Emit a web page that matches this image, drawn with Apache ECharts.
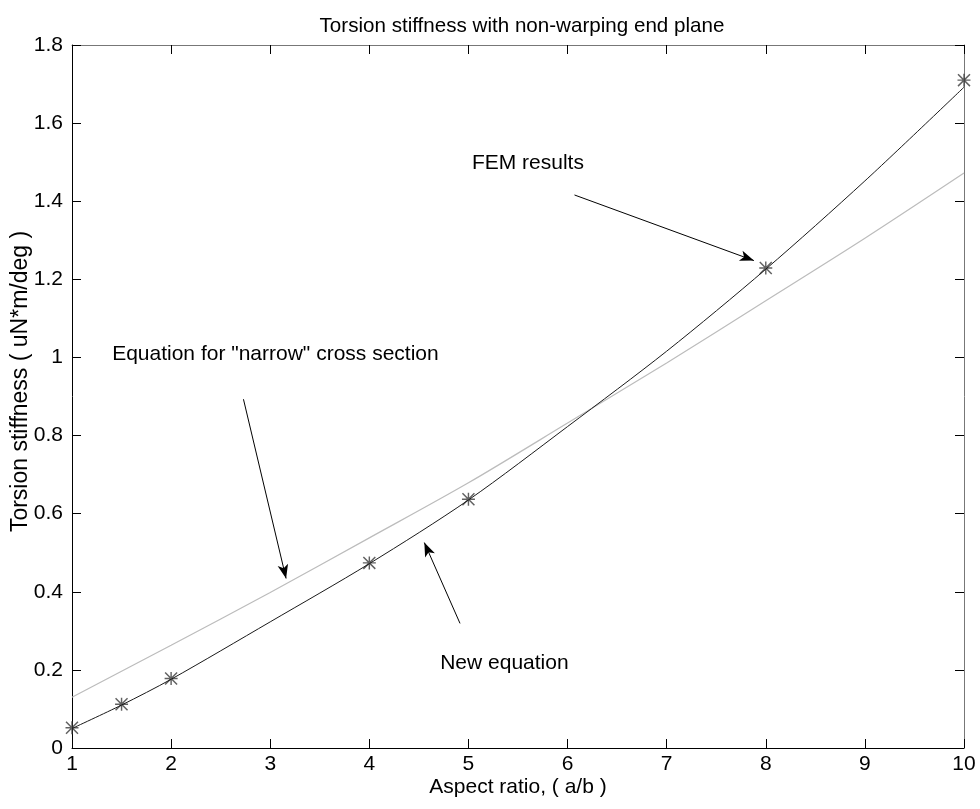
<!DOCTYPE html>
<html>
<head>
<meta charset="utf-8">
<script src="https://cdn.jsdelivr.net/npm/echarts@6/dist/echarts.min.js"></script>
<style>
  html, body { margin: 0; padding: 0; background: #fff; }
  #chart { width: 980px; height: 809px; }
</style>
</head>
<body>
<div id="chart"></div>
<script>
// values
const xTicks = [1, 2, 3, 4, 5, 6, 7, 8, 9, 10];
const narrowX = [1, 2, 3, 4, 5, 6, 7, 8, 9, 10];
const narrowY = [0.130, 0.263, 0.398, 0.538, 0.679, 0.832, 0.986, 1.145, 1.305, 1.472];
const newEqX = [1, 1.5, 2, 3, 4, 5, 6, 7, 8, 9, 10];
const newEqY = [0.050, 0.110, 0.176, 0.323, 0.472, 0.635, 0.823, 1.016, 1.226, 1.452, 1.692];
const femX = [1, 1.5, 2, 4, 5, 8, 10];
const femY = [0.052, 0.112, 0.178, 0.474, 0.637, 1.229, 1.71];

// annotations (data coordinates)
const noteLabels = ['FEM results', 'Equation for "narrow" cross section', 'New equation'];
const noteAt = [[5.03, 1.498], [1.40, 1.009], [4.71, 0.217]];
const arrowFrom = [[6.07, 1.416], [2.73, 0.893], [4.915, 0.319]];
const arrowTo = [[7.88, 1.248], [3.16, 0.434], [4.555, 0.526]];

const font = '"Liberation Sans", Arial, sans-serif';
const zip = (xs, ys) => xs.map((x, i) => [x, ys[i]]);

// MATLAB-ish asterisk marker
const star = 'path://M4.45 0H5.55V10H4.45Z M0 4.45H10V5.55H0Z ' +
  'M0.8 0L10 9.2L9.2 10L0 0.8Z M9.2 0L10 0.8L0.8 10L0 9.2Z';

const chart = echarts.init(document.getElementById('chart'));

const axisBase = {
  type: 'value',
  splitLine: { show: false },
  axisLine: { show: true, onZero: false, lineStyle: { color: '#000', width: 1 } },
  axisTick: { show: true, inside: true, length: 9, lineStyle: { color: '#000' } },
  axisLabel: { color: '#000', fontSize: 21, fontFamily: font },
};

chart.setOption({
  animation: false,
  backgroundColor: '#fff',
  title: {
    text: 'Torsion stiffness with non-warping end plane',
    left: 517,
    top: 11,
    textAlign: 'center',
    textStyle: { color: '#000', fontSize: 20.6, fontWeight: 'normal', fontFamily: font },
  },
  grid: { left: 72, right: 16, top: 45, bottom: 61, containLabel: false, outerBoundsMode: 'none' },
  xAxis: [
    Object.assign({}, axisBase, {
      min: xTicks[0], max: xTicks[xTicks.length - 1], interval: 1,
      name: 'Aspect ratio, ( a/b )',
      nameLocation: 'middle',
      nameGap: 29,
      nameMoveOverlap: false,
      nameTextStyle: { color: '#000', fontSize: 21, fontFamily: font },
      axisLabel: Object.assign({}, axisBase.axisLabel, { margin: 6 }),
    }),
    Object.assign({}, axisBase, {
      position: 'top',
      min: 1, max: 10, interval: 1,
      axisLine: { show: true, onZero: false, lineStyle: { color: '#777' } },
      axisLabel: { show: false },
    }),
  ],
  yAxis: [
    Object.assign({}, axisBase, {
      min: 0, max: 1.8, interval: 0.2,
      name: 'Torsion stiffness ( uN*m/deg )',
      nameLocation: 'middle',
      nameGap: 40,
      nameMoveOverlap: false,
      nameTextStyle: { color: '#000', fontSize: 23, fontFamily: font, padding: [0, 0, 0, 30] },
      axisLabel: Object.assign({}, axisBase.axisLabel, { margin: 9 }),
    }),
    Object.assign({}, axisBase, {
      position: 'right',
      min: 0, max: 1.8, interval: 0.2,
      axisLine: { show: true, onZero: false, lineStyle: { color: '#777' } },
      axisLabel: { show: false },
    }),
  ],
  series: [
    {
      name: 'narrow',
      type: 'line',
      data: zip(narrowX, narrowY),
      smooth: 0.3,
      showSymbol: false,
      lineStyle: { color: '#bcbcbc', width: 1.2 },
      silent: true,
    },
    {
      name: 'new equation',
      type: 'line',
      data: zip(newEqX, newEqY),
      smooth: 0.3,
      showSymbol: false,
      lineStyle: { color: '#1a1a1a', width: 1 },
      silent: true,
    },
    {
      name: 'FEM',
      type: 'scatter',
      data: zip(femX, femY),
      symbol: star,
      symbolSize: 13,
      itemStyle: { color: '#3a3a3a' },
      silent: true,
      markLine: {
        silent: true,
        animation: false,
        symbol: ['none', 'arrow'],
        symbolSize: [8, 14],
        label: { show: false },
        lineStyle: { color: '#000', width: 1, type: 'solid' },
        emphasis: { disabled: true },
        data: arrowFrom.map((p, i) => [{ coord: p }, { coord: arrowTo[i] }]),
      },
      markPoint: {
        silent: true,
        animation: false,
        symbol: 'circle',
        symbolSize: 1,
        itemStyle: { color: 'rgba(0,0,0,0)' },
        label: {
          show: true,
          position: 'right',
          distance: 0,
          formatter: '{b}',
          color: '#000',
          fontSize: 21,
          fontFamily: font,
        },
        data: noteLabels.map((t, i) => ({ name: t, coord: noteAt[i] })),
      },
    },
  ],
});
</script>
</body>
</html>
